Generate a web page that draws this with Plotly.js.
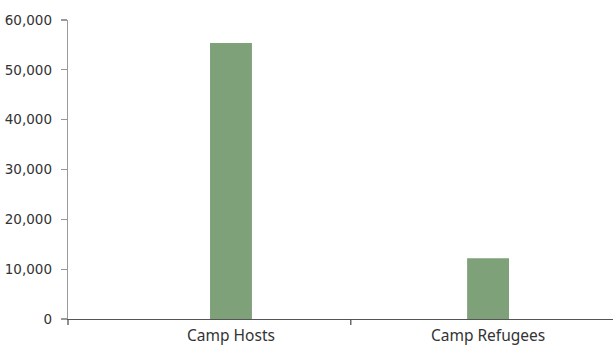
<!DOCTYPE html>
<html>
<head>
<meta charset="utf-8">
<script src="https://cdn.plot.ly/plotly-3.0.1.min.js"></script>
<style>html,body{margin:0;padding:0;background:#fff;}#chart{width:613px;height:345px;}</style>
</head>
<body>
<div id="chart"></div>
<script>
const categories = ["Camp Hosts", "Camp Refugees"];
const values = [55400, 12200];
const yTickVals = [0, 10000, 20000, 30000, 40000, 50000, 60000];
const yTickText = ["0", "10,000", "20,000", "30,000", "40,000", "50,000", "60,000"];

const trace = {
  type: "bar",
  x: categories,
  y: values,
  width: 0.163,
  marker: {color: "#7ea17a"},
  hoverinfo: "skip"
};

const layout = {
  width: 613,
  height: 345,
  margin: {l: 68, r: 0, t: 19.5, b: 25.5},
  paper_bgcolor: "#fff",
  plot_bgcolor: "#fff",
  showlegend: false,
  xaxis: {
    type: "category",
    range: [-0.634, 1.486],
    showgrid: false,
    zeroline: false,
    showline: true,
    linecolor: "#555",
    linewidth: 1.3,
    ticks: "",
    ticklabelstandoff: 2,
    tickfont: {family: "Noto Sans", size: 15.5, color: "#333"},
    automargin: false
  },
  yaxis: {
    range: [0, 60000],
    tickvals: yTickVals,
    ticktext: yTickText,
    showgrid: false,
    zeroline: false,
    showline: true,
    linecolor: "#999",
    linewidth: 1.3,
    ticks: "outside",
    ticklen: 6,
    tickcolor: "#999",
    tickwidth: 1.3,
    ticklabelstandoff: 6,
    tickfont: {family: "DejaVu Sans", size: 13.5, color: "#333"},
    automargin: false
  },
  shapes: [
    {type: "line", xref: "x", yref: "paper", x0: 0.466, x1: 0.466, y0: 0, y1: -0.02, line: {color: "#555", width: 1.3}},
    {type: "line", xref: "paper", yref: "paper", x0: 0, x1: 0, y0: 0, y1: -0.02, line: {color: "#555", width: 1.3}}
  ]
};

Plotly.newPlot("chart", [trace], layout, {displayModeBar: false, staticPlot: true});
</script>
</body>
</html>
